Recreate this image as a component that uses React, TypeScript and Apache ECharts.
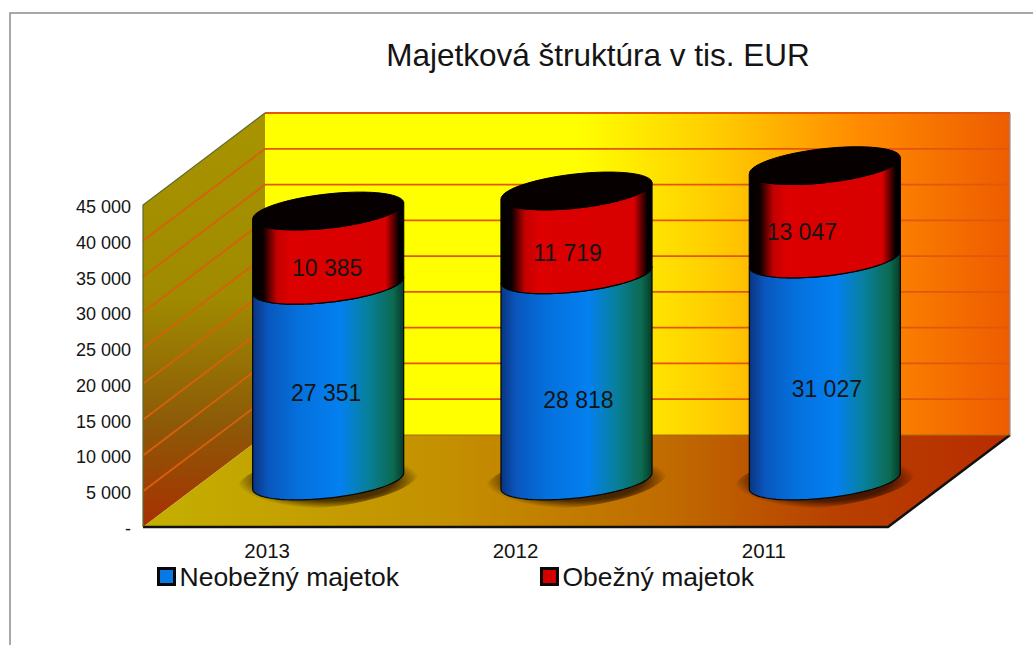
import React, { useEffect, useRef } from "react";
import * as echarts from "echarts";

const years = ["2013", "2012", "2011"];
const fixedAssets = [27351, 28818, 31027];
const currentAssets = [10385, 11719, 13047];
const yTicks = [0, 5000, 10000, 15000, 20000, 25000, 30000, 35000, 40000, 45000];
const seriesNames = ["Neobežný majetok", "Obežný majetok"];
const titleText = "Majetková štruktúra v tis. EUR";

const FONT = '"Liberation Sans", Arial, sans-serif';
const DEPTH_X = 122;
const DEPTH_Y = 92;
const CYL_DX = 61;
const CYL_DY = -46;
const RX = 76;
const RY = 17;
const TILT = (-6.4 * Math.PI) / 180;

const blueNudge = [[-2, 10], [2, 22], [2, 19]];
const redNudge = [[-1, 20], [-9, 20], [-23, 20]];

const fmt = (v: number) => String(v).replace(/\B(?=(\d{3})+$)/g, " ");

const hGrad = (stops: [number, string][]) =>
  new echarts.graphic.LinearGradient(0, 0, 1, 0, stops.map(([offset, color]) => ({ offset, color })));
const vGrad = (stops: [number, string][]) =>
  new echarts.graphic.LinearGradient(0, 0, 0, 1, stops.map(([offset, color]) => ({ offset, color })));

const arcPoints = (cx: number, cy: number, rx: number, ry: number, from: number, to: number) => {
  const pts: number[][] = [];
  const n = 48;
  for (let k = 0; k <= n; k++) {
    const t = from + ((to - from) * k) / n;
    pts.push([
      cx + rx * Math.cos(t) * Math.cos(TILT) - ry * Math.sin(t) * Math.sin(TILT),
      cy + rx * Math.cos(t) * Math.sin(TILT) + ry * Math.sin(t) * Math.cos(TILT),
    ]);
  }
  return pts;
};

const blueFill = () =>
  hGrad([
    [0, "#0a3480"], [0.1, "#0a56bc"], [0.3, "#0470dc"], [0.58, "#0480f0"],
    [0.76, "#08809c"], [0.93, "#0c6a50"], [1, "#053c28"],
  ]);
const redFill = () =>
  hGrad([
    [0, "#000000"], [0.07, "#0a0000"], [0.16, "#c40000"], [0.25, "#dc0000"],
    [0.88, "#d80000"], [0.95, "#300000"], [0.97, "#000000"], [1, "#000000"],
  ]);

const renderWalls = (params: any, api: any) => {
  const cs = params.coordSys;
  const xL = cs.x;
  const xR = cs.x + cs.width;
  const y0 = api.coord([0, 0])[1];
  const yTop = api.coord([0, yTicks[yTicks.length - 1]])[1];
  const children: any[] = [
    {
      type: "polygon",
      shape: { points: [[xL + DEPTH_X, yTop - DEPTH_Y], [xR + DEPTH_X, yTop - DEPTH_Y], [xR + DEPTH_X, y0 - DEPTH_Y], [xL + DEPTH_X, y0 - DEPTH_Y]] },
      style: {
        fill: hGrad([[0, "#ffff00"], [0.42, "#ffff00"], [0.62, "#ffc800"], [0.8, "#ff8a00"], [1, "#ee5c00"]]),
      },
    },
    {
      type: "polygon",
      shape: { points: [[xL, yTop], [xL + DEPTH_X, yTop - DEPTH_Y], [xL + DEPTH_X, y0 - DEPTH_Y], [xL, y0]] },
      style: {
        fill: vGrad([[0, "#a89400"], [0.45, "#a08a00"], [0.75, "#8c5a08"], [1, "#a83000"]]),
      },
    },
    {
      type: "polygon",
      shape: { points: [[xL, y0], [xR, y0], [xR + DEPTH_X, y0 - DEPTH_Y], [xL + DEPTH_X, y0 - DEPTH_Y]] },
      style: {
        fill: hGrad([[0, "#c4b000"], [0.35, "#c49000"], [0.6, "#c06c00"], [0.8, "#b84000"], [1, "#b82c00"]]),
      },
    },
  ];
  yTicks.forEach((t) => {
    const y = api.coord([0, t])[1];
    if (t > 0) {
      children.push({
        type: "line",
        shape: { x1: xL + DEPTH_X, y1: y - DEPTH_Y, x2: xR + DEPTH_X, y2: y - DEPTH_Y },
        style: { stroke: "#e4560c", lineWidth: 1.8 },
      });
    }
    if (t > 0 && t < yTicks[yTicks.length - 1]) {
      children.push({
        type: "line",
        shape: { x1: xL, y1: y, x2: xL + DEPTH_X, y2: y - DEPTH_Y },
        style: { stroke: "#d8600c", lineWidth: 1.8 },
      });
    }
  });
  children.push(
    {
      type: "polyline",
      shape: { points: [[xL, y0], [xR, y0], [xR + DEPTH_X, y0 - DEPTH_Y]] },
      style: { stroke: "#111111", lineWidth: 2.5, fill: "none" },
    },
    {
      type: "polyline",
      shape: { points: [[xL, y0], [xL, yTop], [xL + DEPTH_X, yTop - DEPTH_Y]] },
      style: { stroke: "#5c6a30", lineWidth: 1.2, fill: "none" },
    },
    {
      type: "line",
      shape: { x1: xR + DEPTH_X, y1: yTop - DEPTH_Y, x2: xR + DEPTH_X, y2: y0 - DEPTH_Y },
      style: { stroke: "#8f8f9a", lineWidth: 1.2 },
    },
    {
      type: "line",
      shape: { x1: xL + DEPTH_X, y1: y0 - DEPTH_Y, x2: xR + DEPTH_X, y2: y0 - DEPTH_Y },
      style: { stroke: "#a07010", lineWidth: 1 },
    }
  );
  return { type: "group", silent: true, children };
};

const makeRenderSegment = (isTop: boolean, nudges: number[][]) => (params: any, api: any) => {
  const i = api.value(0);
  const base = api.coord([i, api.value(1)]);
  const top = api.coord([i, api.value(2)]);
  const cx = base[0] + CYL_DX;
  const yb = base[1] + CYL_DY;
  const yt = top[1] + CYL_DY;
  const children: any[] = [];
  if (!isTop) {
    children.push({
      type: "polygon",
      shape: { points: arcPoints(cx, yb - 1, 92, 27, 0, Math.PI * 2) },
      style: {
        fill: new echarts.graphic.RadialGradient(0.5, 0.5, 0.5, [
          { offset: 0, color: "rgba(30,10,0,0.9)" },
          { offset: 0.72, color: "rgba(30,10,0,0.72)" },
          { offset: 1, color: "rgba(30,10,0,0)" },
        ]),
      },
    });
  }
  children.push({
    type: "polygon",
    shape: {
      points: [
        ...arcPoints(cx, yb, RX, RY, Math.PI, 0),
        ...arcPoints(cx, yt, RX, RY, 0, Math.PI),
      ],
    },
    style: { fill: isTop ? redFill() : blueFill(), stroke: "#04060a", lineWidth: 1.2 },
  });
  if (isTop) {
    children.push({
      type: "polygon",
      shape: { points: arcPoints(cx, yt, RX, RY, 0, Math.PI * 2) },
      style: { fill: "#070000", stroke: "#000000", lineWidth: 1 },
    });
  }
  const nudge = nudges[i];
  children.push({
    type: "text",
    style: {
      text: fmt(api.value(2) - api.value(1)),
      x: cx + nudge[0],
      y: (yb + yt) / 2 + nudge[1],
      fill: "#141414",
      font: `23px ${FONT}`,
      align: "center",
      verticalAlign: "middle",
    },
  });
  return { type: "group", children };
};

export default function App() {
  const ref = useRef<HTMLDivElement>(null);
  useEffect(() => {
    const chart = echarts.init(ref.current!, undefined, { renderer: "svg" });
    chart.setOption({
      animation: false,
      backgroundColor: "#ffffff",
      textStyle: { fontFamily: FONT },
      title: {
        text: titleText,
        left: 593,
        top: 34,
        textAlign: "center",
        textStyle: { fontFamily: FONT, fontSize: 31.5, fontWeight: "normal", color: "#141414" },
      },
      graphic: [
        {
          type: "rect",
          silent: true,
          z: -10,
          shape: { x: 10, y: 13, width: 1040, height: 650 },
          style: { fill: "none", stroke: "#8c8c8c", lineWidth: 1.5 },
        },
      ],
      grid: { left: 143, right: 145, top: 205, bottom: 118 },
      legend: {
        left: 152,
        top: 558,
        itemGap: 141,
        itemWidth: 16,
        itemHeight: 16,
        selectedMode: false,
        textStyle: { fontFamily: FONT, fontSize: 26.5, color: "#141414" },
        data: [
          { name: seriesNames[0], icon: "rect", itemStyle: { color: "#0878e4", borderColor: "#06080c", borderWidth: 3 } },
          { name: seriesNames[1], icon: "rect", itemStyle: { color: "#d40000", borderColor: "#06080c", borderWidth: 3 } },
        ],
      },
      xAxis: {
        type: "category",
        data: years,
        axisLine: { show: false },
        axisTick: { show: false },
        axisLabel: { fontFamily: FONT, fontSize: 20.5, color: "#141414", margin: 13 },
      },
      yAxis: {
        type: "value",
        min: 0,
        max: 45000,
        interval: 5000,
        axisLine: { show: false },
        axisTick: { show: false },
        splitLine: { show: false },
        axisLabel: {
          fontFamily: FONT,
          fontSize: 18,
          color: "#141414",
          margin: 12,
          verticalAlign: "top",
          lineHeight: 4,
          formatter: (v: number) => (v === 0 ? "-" : fmt(v)),
        },
      },
      series: [
        {
          type: "custom",
          name: "walls",
          z: 1,
          silent: true,
          renderItem: renderWalls,
          encode: { x: 0, y: 1 },
          data: [[0, 0]],
        },
        {
          type: "custom",
          name: seriesNames[0],
          z: 2,
          silent: true,
          itemStyle: { color: "#0878e4" },
          renderItem: makeRenderSegment(false, blueNudge),
          encode: { x: 0, y: [1, 2] },
          data: fixedAssets.map((v, i) => [i, 0, v]),
        },
        {
          type: "custom",
          name: seriesNames[1],
          z: 3,
          silent: true,
          itemStyle: { color: "#d40000" },
          renderItem: makeRenderSegment(true, redNudge),
          encode: { x: 0, y: [1, 2] },
          data: currentAssets.map((v, i) => [i, fixedAssets[i], fixedAssets[i] + v]),
        },
      ],
    });
    return () => chart.dispose();
  }, []);
  return <div ref={ref} style={{ position: "absolute", left: 0, top: 0, width: 1033, height: 645 }} />;
}
